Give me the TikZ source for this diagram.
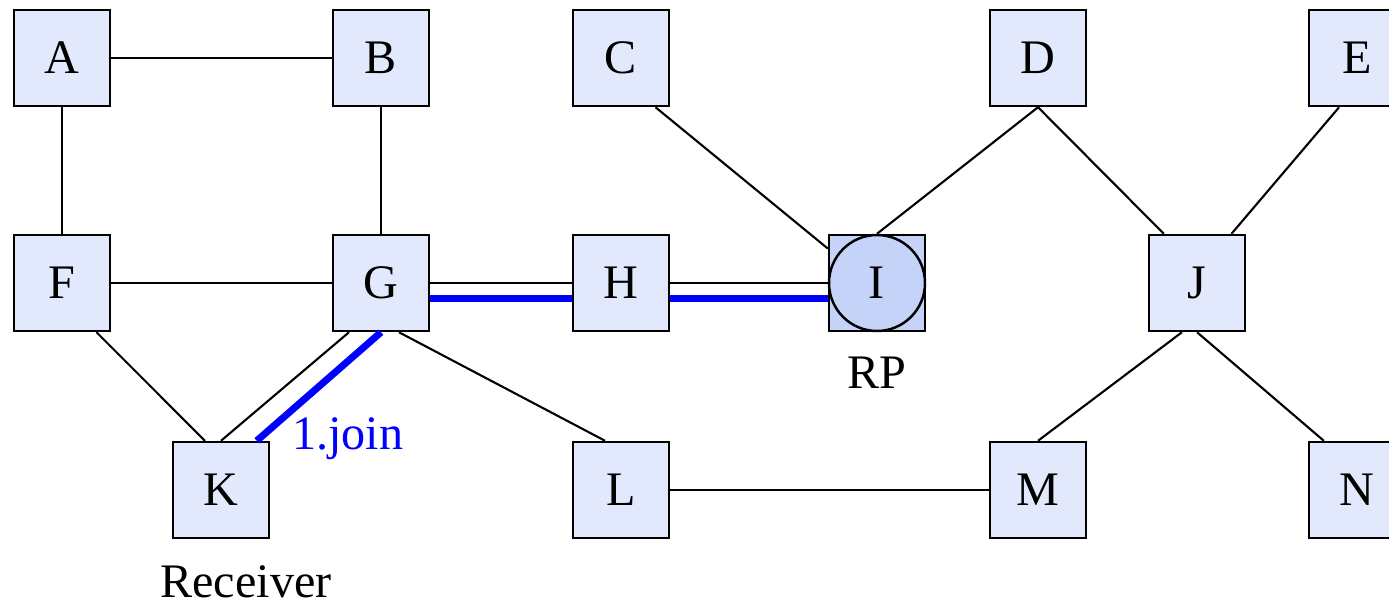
\documentclass[tikz,border=0pt]{standalone}
\usepackage{fontspec}
\setmainfont{Liberation Serif}
\usetikzlibrary{positioning}
\definecolor{boxfill}{RGB}{227,233,252}
\definecolor{rpfill}{RGB}{197,211,248}

\begin{document}
\begin{tikzpicture}[font=\fontsize{13.7}{16}\selectfont,
    router/.style={draw, line width=0.7pt, fill=boxfill, minimum size=0.96cm, inner sep=0},
    link/.style={line width=0.6pt},
    joinpath/.style={blue, line width=2pt},
    caption/.style={inner sep=0}]
\useasboundingbox (0,0) rectangle (13.89,-5.98);
%\draw[thin,color=gray!50] (0,-6) grid (14,0);
\foreach \name/\x/\y in {A/0.62/-0.58, B/3.81/-0.58, C/6.21/-0.58, D/10.38/-0.58, E/13.57/-0.58,
    F/0.62/-2.83, G/3.81/-2.83, H/6.21/-2.83, J/11.97/-2.83,
    K/2.21/-4.90, L/6.21/-4.90, M/10.38/-4.90, N/13.57/-4.90}{
    \node[router] (\name) at (\x,\y) {\name};
}
\node[router, fill=rpfill] (I) at (8.77,-2.83) {I};
\node[draw, line width=0.7pt, circle, minimum size=0.96cm, inner sep=0] (Icirc) at (I) {};

\foreach \a/\b in {A/B, A/F, B/G, F/G, G/H, H/I, L/M}{
    \draw[link] (\a) -- (\b);
}
\draw[link] (C.-55) -- (I.145);
\draw[link] (D.south) -- (I.north);
\draw[link] (D.south) -- (J.124);
\draw[link] (E.250) -- (J.55);
\draw[link] (J.253) -- (M.north);
\draw[link] (J.south) -- (N.124);
\draw[link] (F.-55) -- (K.108);
\draw[link] (G.237) -- (K.north);
\draw[link] (G.-70) -- (L.108);
%\pause
\draw[joinpath] (G.-17.35) -- (H.197.35);
\draw[joinpath] (H.-17.35) -- (I.197.35);
\draw[joinpath] (G.south) -- (K.54) node[caption, anchor=base west, xshift=3.2mm, yshift=-0.9mm] {1.join};

\node[caption, below=0.24cm of I] (rp) {RP};
\node[caption, below=0.26cm of K, xshift=0.25cm] (recv) {Receiver};
\end{tikzpicture}
\end{document}
